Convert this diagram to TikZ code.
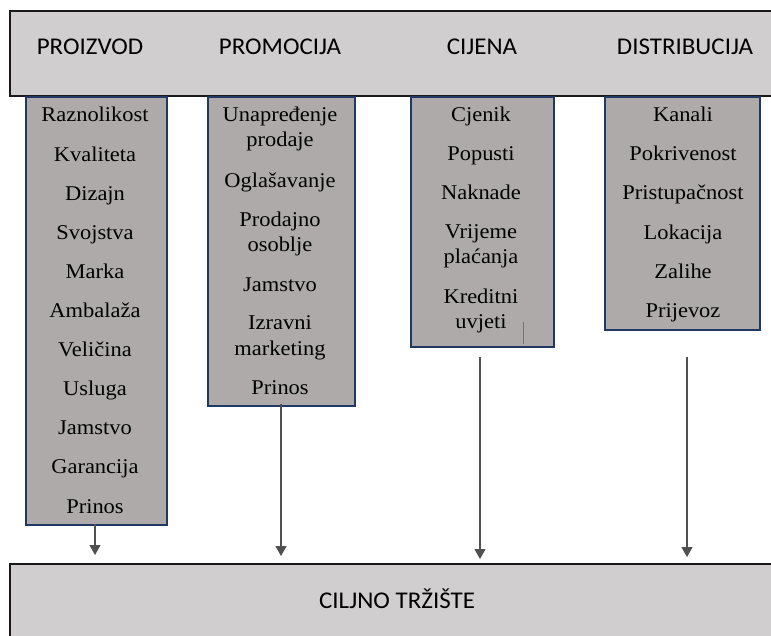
\documentclass[tikz,border=0pt]{standalone}
\usepackage{fontspec}
\setmainfont{Liberation Serif}
\newfontfamily\hdrfont[FakeStretch=1.04]{Carlito}
\newfontfamily\itemfont[FakeStretch=1.07]{Liberation Serif}
\usetikzlibrary{arrows.meta}
\definecolor{barfill}{HTML}{D0CECE}
\definecolor{colfill}{HTML}{AEAAAA}
\definecolor{colline}{HTML}{1F3864}
\definecolor{arrline}{HTML}{505050}
\tikzset{
  bar/.style={draw=black!90, line width=1.8pt, fill=barfill},
  colbox/.style={draw=colline, line width=1.6pt, fill=colfill, rectangle, inner sep=0pt, anchor=north west},
  hdr/.style={font=\hdrfont\fontsize{24}{28}\selectfont, anchor=base, inner sep=0pt, text=black},
  item/.style={font=\itemfont\fontsize{21}{25}\selectfont, anchor=base, inner sep=0pt, text=black},
  arr/.style={draw=arrline, line width=1.1pt, -{Triangle[width=11pt,length=10pt]}},
}
\begin{document}
\begin{tikzpicture}[x=1pt,y=-1pt]
\useasboundingbox (0,0) rectangle (771,636);
\clip (0,0) rectangle (771,636);
% top and bottom bars
\draw[bar] (10,11) rectangle (790,96);
\draw[bar] (10,564) rectangle (790,660);
\node[hdr] (h1) at (90,55) {PROIZVOD};
\node[hdr] (h2) at (280,55) {PROMOCIJA};
\node[hdr] (h3) at (482,55) {CIJENA};
\node[hdr] (h4) at (685,55) {DISTRIBUCIJA};
\node[hdr] (tgt) at (397,608) {CILJNO TRŽIŠTE};
% columns
\node[colbox, minimum width=141, minimum height=428] (b1) at (25,96) {};
\node[colbox, minimum width=147, minimum height=309] (b2) at (207,96) {};
\node[colbox, minimum width=143, minimum height=250] (b3) at (410,96) {};
\node[colbox, minimum width=155, minimum height=233] (b4) at (604,96) {};
% items column 1
\foreach \t [count=\i] in {Raznolikost,Kvaliteta,Dizajn,Svojstva,Marka,Ambala\v{z}a,Veli\v{c}ina,Usluga,Jamstvo,Garancija,Prinos}
  \node[item] (p\i) at (95,{122+39.1*(\i-1)}) {\t};
% items column 2
\node[item] (q1) at (280,122) {Unapređenje};
\node[item] (q2) at (280,147) {prodaje};
\node[item] (q3) at (280,188) {Oglašavanje};
\node[item] (q4) at (280,227) {Prodajno};
\node[item] (q5) at (280,252) {osoblje};
\node[item] (q6) at (280,291) {Jamstvo};
\node[item] (q7) at (280,330) {Izravni};
\node[item] (q8) at (280,355) {marketing};
\node[item] (q9) at (280,394) {Prinos};
% items column 3
\node[item] (r1) at (481,122) {Cjenik};
\node[item] (r2) at (481,161) {Popusti};
\node[item] (r3) at (481,200) {Naknade};
\node[item] (r4) at (481,239) {Vrijeme};
\node[item] (r5) at (481,264) {plaćanja};
\node[item] (r6) at (481,304) {Kreditni};
\node[item] (r7) at (481,329) {uvjeti};
\coordinate (s1) at (523,322);
\coordinate (s2) at (523,344);
\draw[draw=black!55, line width=0.9pt] (s1) -- (s2);
% items column 4
\node[item] (u1) at (683,122) {Kanali};
\node[item] (u2) at (683,161) {Pokrivenost};
\node[item] (u3) at (683,200) {Pristupačnost};
\node[item] (u4) at (683,240) {Lokacija};
\node[item] (u5) at (683,279) {Zalihe};
\node[item] (u6) at (683,318) {Prijevoz};
% arrows
\coordinate (a1s) at (95,524);
\coordinate (a1e) at (95,555);
\coordinate (a2s) at (281,404);
\coordinate (a2e) at (281,556);
\coordinate (a3s) at (480,357);
\coordinate (a3e) at (480,559);
\coordinate (a4s) at (687,357);
\coordinate (a4e) at (687,557);
\draw[arr] (a1s) -- (a1e);
\draw[arr] (a2s) -- (a2e);
\draw[arr] (a3s) -- (a3e);
\draw[arr] (a4s) -- (a4e);
\end{tikzpicture}
\end{document}
